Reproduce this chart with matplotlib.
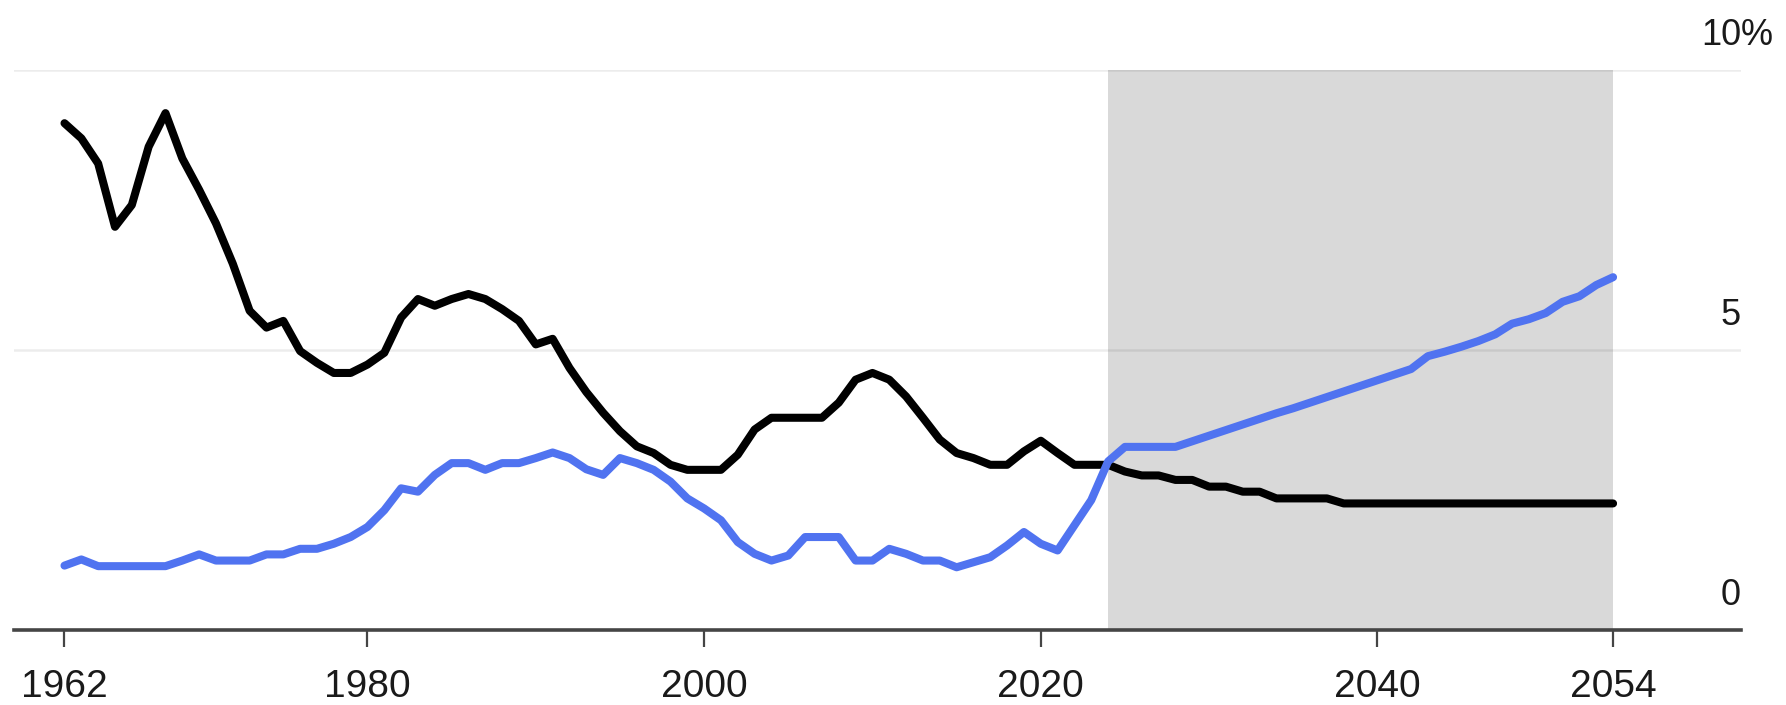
import numpy as np
import matplotlib
matplotlib.use('Agg')
import matplotlib.pyplot as plt
import matplotlib.transforms as mtransforms

plt.rcParams['font.family'] = ['Liberation Sans', 'DejaVu Sans']

# annual series, 1962-2054 (percent)
years = np.arange(1962, 2055)

black_series = [
    9.05, 8.78, 8.33, 7.20, 7.59, 8.63, 9.23, 8.42, 7.86, 7.26,   # 1962-1971
    6.54, 5.70, 5.40, 5.52, 4.98, 4.77, 4.59, 4.59, 4.74, 4.95,   # 1972-1981
    5.58, 5.91, 5.79, 5.91, 6.00, 5.91, 5.73, 5.52, 5.10, 5.20,   # 1982-1991
    4.68, 4.25, 3.88, 3.55, 3.28, 3.16, 2.95, 2.86, 2.86, 2.86,   # 1992-2001
    3.13, 3.58, 3.79, 3.79, 3.79, 3.79, 4.06, 4.47, 4.59, 4.47,   # 2002-2011
    4.17, 3.79, 3.40, 3.16, 3.07, 2.95, 2.95, 3.19, 3.38, 3.16,   # 2012-2021
    2.95, 2.95, 2.95, 2.83, 2.76, 2.76, 2.68, 2.68, 2.56, 2.56,   # 2022-2031
    2.47, 2.47, 2.35, 2.35, 2.35, 2.35, 2.26, 2.26, 2.26, 2.26,   # 2032-2041
    2.26, 2.26, 2.26, 2.26, 2.26, 2.26, 2.26, 2.26, 2.26, 2.26,   # 2042-2051
    2.26, 2.26, 2.26,                                             # 2052-2054
]

blue_series = [
    1.15, 1.26, 1.14, 1.14, 1.14, 1.14, 1.14, 1.24, 1.35, 1.24,   # 1962-1971
    1.24, 1.24, 1.35, 1.35, 1.45, 1.45, 1.54, 1.66, 1.84, 2.14,   # 1972-1981
    2.53, 2.47, 2.77, 2.98, 2.98, 2.86, 2.98, 2.98, 3.07, 3.17,   # 1982-1991
    3.07, 2.87, 2.77, 3.07, 2.98, 2.86, 2.65, 2.35, 2.17, 1.96,   # 1992-2001
    1.57, 1.36, 1.24, 1.33, 1.66, 1.66, 1.66, 1.24, 1.24, 1.45,   # 2002-2011
    1.36, 1.24, 1.24, 1.12, 1.21, 1.30, 1.51, 1.75, 1.54, 1.42,   # 2012-2021
    1.87, 2.32, 3.01, 3.27, 3.27, 3.27, 3.27, 3.37, 3.47, 3.57,   # 2022-2031
    3.67, 3.77, 3.87, 3.96, 4.06, 4.16, 4.26, 4.36, 4.46, 4.56,   # 2032-2041
    4.66, 4.89, 4.97, 5.06, 5.16, 5.28, 5.47, 5.55, 5.66, 5.86,   # 2042-2051
    5.96, 6.16, 6.30,                                             # 2052-2054
]

forecast_span = (2024, 2054)
x_ticks = [1962, 1980, 2000, 2020, 2040, 2054]
y_ticks = [0, 5, 10]
y_tick_labels = ['0', '5', '10']

fig = plt.figure(figsize=(17.86, 7.05), dpi=100)
ax = fig.add_axes([14 / 1786, 1 - 630 / 705, (1741 - 14) / 1786, 560 / 705])

ax.axvspan(*forecast_span, color='#d9d9d9', lw=0, zorder=0)

for y in y_ticks[1:]:
    ax.axhline(y, color='black', alpha=0.075, lw=1.8, zorder=1)

ax.plot(years, black_series, color='black', lw=5.8, zorder=3,
        solid_joinstyle='round', solid_capstyle='round')
ax.plot(years, blue_series, color='#5073f0', lw=5.8, zorder=4,
        solid_joinstyle='round', solid_capstyle='round')

ax.set_xlim(1959.0, 2061.6)
ax.set_ylim(0, 10)

for side in ('left', 'right', 'top'):
    ax.spines[side].set_visible(False)
ax.spines['bottom'].set_color('#454545')
ax.spines['bottom'].set_linewidth(2.6)
ax.spines['bottom'].set_zorder(5)

ax.set_xticks(x_ticks)
ax.set_xticklabels([str(t) for t in x_ticks])
ax.tick_params(axis='x', length=12, width=1.6, color='#454545',
               labelsize=28, labelcolor='#1a1a1a', pad=16)
ax.set_yticks([])

# right-hand value labels sit just above their gridlines
trans = mtransforms.blended_transform_factory(ax.transAxes, ax.transData)
trans = mtransforms.offset_copy(trans, fig=fig, x=0, y=18, units='points')
for y, lab in zip(y_ticks, y_tick_labels):
    ax.text(1.0, y, lab, transform=trans, ha='right', va='baseline',
            fontsize=26, color='#1a1a1a', clip_on=False)
ax.text(1.0, y_ticks[-1], '%', transform=trans, ha='left', va='baseline',
        fontsize=26, color='#1a1a1a', clip_on=False)

fig.savefig('out.png', dpi=100, facecolor='white')
